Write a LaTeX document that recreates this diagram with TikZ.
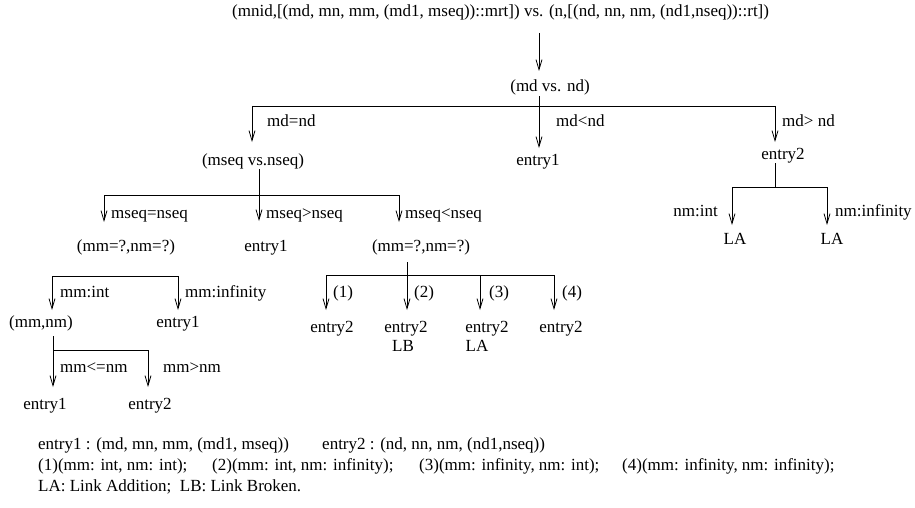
\documentclass[tikz,border=0pt]{standalone}
\usepackage{fontspec}
\setmainfont{Liberation Serif}
\usetikzlibrary{arrows.meta}
\begin{document}
\begin{tikzpicture}[x=1pt,y=-1pt,
  txt/.style={inner sep=0pt,font=\fontsize{17}{20}\selectfont,text height=12pt,text depth=4pt},
  ln/.style={line width=0.8pt},
  arr/.style={ln,-{Straight Barb[length=10pt,width=6pt]}}]
\useasboundingbox (0,0) rectangle (915,508);

% title
\node[txt,anchor=west] (T) at (232,13) {(mnid,[(md, mn, mm, (md1, mseq))::mrt]) vs. (n,[(nd, nn, nm, (nd1,nseq))::rt])};
\node[txt] (A) at (550,88) {(md vs. nd)};
\coordinate (a0) at (539,33);
\coordinate (a1) at (539,71);
\draw[arr] (a0) -- (a1);

% level 1
\coordinate (h1) at (539,106);
\coordinate (h1l) at (252,106);
\coordinate (h1r) at (775,106);
\coordinate (t1l) at (252,142);
\coordinate (t1m) at (539,148);
\coordinate (t1r) at (775,142);
\draw[ln] (A.south -| h1) -- (h1);
\draw[ln] (h1l) -- (h1r);
\draw[arr] (h1l) -- (t1l);
\draw[arr] (h1) -- (t1m);
\draw[arr] (h1r) -- (t1r);
\node[txt,anchor=west] (l1a) at (267,123) {md=nd};
\node[txt,anchor=west] (l1b) at (556,123) {md<nd};
\node[txt,anchor=west] (l1c) at (782,123) {md> nd};
\node[txt] (B) at (253,161) {(mseq vs.nseq)};
\node[txt] (C) at (538,161) {entry1};
\node[txt] (K) at (783,155) {entry2};

% level 2 under B
\coordinate (h2) at (259,195);
\coordinate (h2l) at (104,195);
\coordinate (h2r) at (399,195);
\coordinate (t2l) at (104,222);
\coordinate (t2m) at (259,221);
\coordinate (t2r) at (399,222);
\draw[ln] (h2l) -- (h2r);
\draw[arr] (B.south -| h2) -- (t2m);
\draw[arr] (h2l) -- (t2l);
\draw[arr] (h2r) -- (t2r);
\node[txt,anchor=west] (l2a) at (111,214) {mseq=nseq};
\node[txt,anchor=west] (l2b) at (266,214) {mseq>nseq};
\node[txt,anchor=west] (l2c) at (405,214) {mseq<nseq};
\node[txt] (D) at (126,247) {(mm=?,nm=?)};
\node[txt] (E) at (266,247) {entry1};
\node[txt] (F) at (421,247) {(mm=?,nm=?)};

% under D
\coordinate (h3l) at (52,276);
\coordinate (h3r) at (178,276);
\coordinate (t3l) at (52,310);
\coordinate (t3r) at (178,310);
\draw[ln] (h3l) -- (h3r);
\draw[arr] (h3l) -- (t3l);
\draw[arr] (h3r) -- (t3r);
\node[txt,anchor=west] (l3a) at (60,293) {mm:int};
\node[txt,anchor=west] (l3b) at (185,293) {mm:infinity};
\node[txt] (G) at (41,323) {(mm,nm)};
\node[txt] (H) at (178,323) {entry1};

% under G
\coordinate (g0) at (53,336);
\coordinate (h4r) at (148,350);
\coordinate (t4l) at (53,387);
\coordinate (t4r) at (148,387);
\draw[arr] (g0) -- (t4l);
\draw[ln] (g0 |- h4r) -- (h4r);
\draw[arr] (h4r) -- (t4r);
\node[txt,anchor=west] (l4a) at (60,368) {mm<=nm};
\node[txt,anchor=west] (l4b) at (163,368) {mm>nm};
\node[txt] (I) at (45,405) {entry1};
\node[txt] (J) at (150,405) {entry2};

% under F
\coordinate (f0) at (407,262);
\coordinate (h5l) at (326,275);
\coordinate (h5c) at (480,275);
\coordinate (h5r) at (554,275);
\coordinate (t51) at (326,310);
\coordinate (t52) at (407,310);
\coordinate (t53) at (480,310);
\coordinate (t54) at (554,310);
\draw[ln] (h5l) -- (h5r);
\draw[arr] (f0) -- (t52);
\draw[arr] (h5l) -- (t51);
\draw[arr] (h5c) -- (t53);
\draw[arr] (h5r) -- (t54);
\node[txt,anchor=west] (l51) at (333,293) {(1)};
\node[txt,anchor=west] (l52) at (414,293) {(2)};
\node[txt,anchor=west] (l53) at (489,293) {(3)};
\node[txt,anchor=west] (l54) at (562,293) {(4)};
\node[txt] (P1) at (332,328) {entry2};
\node[txt] (P2) at (406,328) {entry2};
\node[txt] (P3) at (487,328) {entry2};
\node[txt] (P4) at (561,328) {entry2};
\node[txt] (LB) at (403,347) {LB};
\node[txt] (LA1) at (477,347) {LA};

% under K
\coordinate (h6) at (775,187);
\coordinate (h6l) at (732,187);
\coordinate (h6r) at (827,187);
\coordinate (t6l) at (732,225);
\coordinate (t6r) at (827,225);
\draw[ln] (K.south -| h6) -- (h6);
\draw[ln] (h6l) -- (h6r);
\draw[arr] (h6l) -- (t6l);
\draw[arr] (h6r) -- (t6r);
\node[txt,anchor=east] (l6a) at (718,212) {nm:int};
\node[txt,anchor=west] (l6b) at (835,212) {nm:infinity};
\node[txt] (LA2) at (735,240) {LA};
\node[txt] (LA3) at (832,240) {LA};

% legend
\node[txt,anchor=west] (g1a) at (38,445) {entry1 : (md, mn, mm, (md1, mseq))};
\node[txt,anchor=west] (g1b) at (322,445) {entry2 : (nd, nn, nm, (nd1,nseq))};
\node[txt,anchor=west] (g2a) at (38,466) {(1)(mm: int, nm: int);};
\node[txt,anchor=west] (g2b) at (212,466) {(2)(mm: int, nm: infinity);};
\node[txt,anchor=west] (g2c) at (419,466) {(3)(mm: infinity, nm: int);};
\node[txt,anchor=west] (g2d) at (622,466) {(4)(mm: infinity, nm: infinity);};
\node[txt,anchor=west] (g3) at (38,487) {LA: Link Addition;\ \ LB: Link Broken.};
\end{tikzpicture}
\end{document}
